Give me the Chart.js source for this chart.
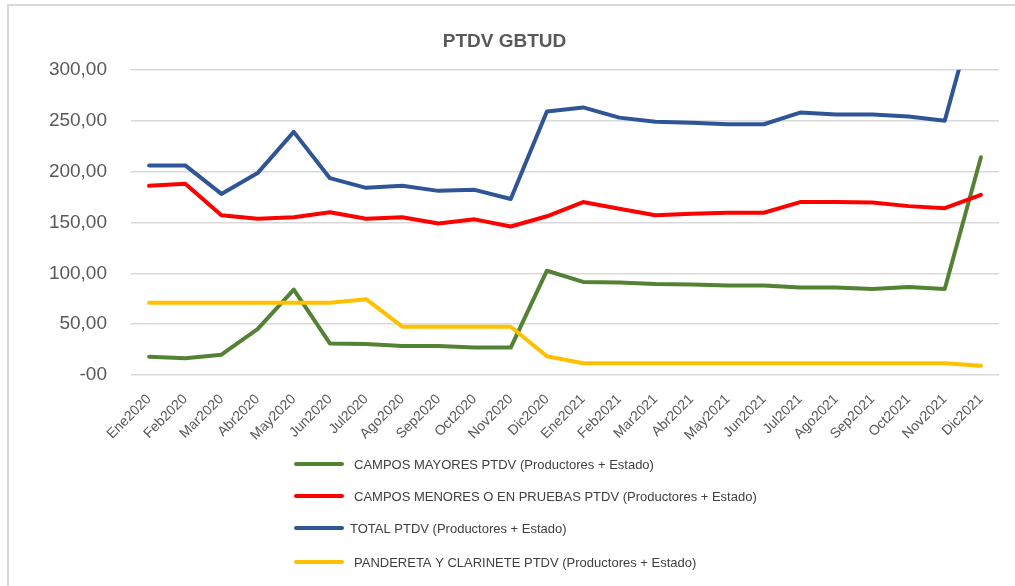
<!DOCTYPE html>
<html>
<head>
<meta charset="utf-8">
<script src="https://cdn.jsdelivr.net/npm/chart.js@4.4.1/dist/chart.umd.min.js"></script>
<style>
  html, body { margin: 0; padding: 0; background: #ffffff; }
  #wrap { position: relative; width: 1015px; height: 586px; overflow: hidden; }
  #frame { position: absolute; left: 7px; top: 4px; right: -10px; bottom: -10px; border-left: 2px solid #d9d9d9; border-top: 2px solid #d9d9d9; pointer-events: none; }
  canvas { position: absolute; left: 0; top: 0; }
</style>
</head>
<body>
<div id="wrap">
  <canvas id="c" width="1015" height="586"></canvas>
  <div id="frame"></div>
</div>
<script>
const categories = ["Ene2020","Feb2020","Mar2020","Abr2020","May2020","Jun2020","Jul2020","Ago2020","Sep2020","Oct2020","Nov2020","Dic2020",
                    "Ene2021","Feb2021","Mar2021","Abr2021","May2021","Jun2021","Jul2021","Ago2021","Sep2021","Oct2021","Nov2021","Dic2021"];
const camposMayores = [18, 16.5, 20, 45, 84, 31, 30.5, 28.5, 28.5, 27, 27, 102.5, 91.5, 91, 89.5, 89, 88, 88, 86, 86, 84.5, 86.5, 84.5, 214];
const camposMenores = [186, 188, 157, 153.5, 155, 160, 153.5, 155, 149, 153, 146, 156, 170, 163.5, 157, 158.5, 159.5, 159.5, 170, 170, 169.5, 166, 164, 177];
const totalPtdv = [206, 206, 178, 198.5, 239, 193.5, 184, 186, 181, 182, 173, 259, 263, 253, 249, 248, 246.5, 246.5, 258, 256, 256, 254, 250, 379];
const pandereta = [71, 71, 71, 71, 71, 71, 74.5, 47.5, 47.5, 47.5, 47.5, 18.5, 11.5, 11.5, 11.5, 11.5, 11.5, 11.5, 11.5, 11.5, 11.5, 11.5, 11.5, 9.2];
const seriesNames = [
  "CAMPOS MAYORES PTDV (Productores + Estado)",
  "CAMPOS MENORES O EN PRUEBAS PTDV (Productores + Estado)",
  "TOTAL PTDV (Productores + Estado)",
  "PANDERETA Y CLARINETE PTDV (Productores + Estado)"
];
const yTickLabels = ["-00", "50,00", "100,00", "150,00", "200,00", "250,00", "300,00"];
const chartTitle = "PTDV GBTUD";

const colors = ["#548235", "#ff0000", "#2f5597", "#ffc000"];
const seriesData = [camposMayores, camposMenores, totalPtdv, pandereta];

const stackedLegend = {
  id: 'stackedLegend',
  afterDraw(chart) {
    const ctx = chart.ctx;
    const rows = [464, 496, 528, 562];
    const textX = [354, 354, 350, 354];
    chart.data.datasets.forEach((ds, i) => {
      const y = rows[i];
      ctx.save();
      ctx.strokeStyle = ds.borderColor;
      ctx.lineWidth = 4;
      ctx.lineCap = 'round';
      ctx.beginPath();
      ctx.moveTo(296, y);
      ctx.lineTo(342, y);
      ctx.stroke();
      ctx.fillStyle = '#404040';
      ctx.font = '13px "Liberation Sans", Arial, sans-serif';
      ctx.textBaseline = 'middle';
      ctx.textAlign = 'left';
      ctx.fillText(ds.label, textX[i], y + 1);
      ctx.restore();
    });
  }
};

new Chart(document.getElementById('c'), {
  type: 'line',
  data: {
    labels: categories,
    datasets: seriesData.map((d, i) => ({
      label: seriesNames[i],
      data: d,
      borderColor: colors[i],
      backgroundColor: colors[i],
      borderWidth: 4,
      pointRadius: 0,
      pointHoverRadius: 0,
      tension: 0,
      fill: false,
      borderJoinStyle: 'round',
      borderCapStyle: 'round',
      order: 3 - i
    }))
  },
  options: {
    responsive: false,
    animation: false,
    layout: { padding: { left: 10, right: 16, top: 0, bottom: 141 } },
    plugins: {
      legend: { display: false },
      tooltip: { enabled: false },
      title: {
        display: true,
        text: chartTitle,
        color: '#595959',
        font: { family: '"Liberation Sans", Arial, sans-serif', size: 19, weight: 'bold' },
        padding: { top: 30, bottom: 17 }
      }
    },
    scales: {
      x: {
        offset: true,
        grid: { display: false, drawTicks: false },
        border: { display: false },
        ticks: {
          color: '#595959',
          font: { family: '"Liberation Sans", Arial, sans-serif', size: 14 },
          minRotation: 45,
          maxRotation: 45,
          autoSkip: false,
          padding: 16
        },
        afterFit(scale) { scale.height = 70; }
      },
      y: {
        min: 0,
        max: 300,
        grid: { color: '#d9d9d9', lineWidth: 1.5, drawTicks: false },
        border: { display: false },
        ticks: {
          stepSize: 50,
          color: '#595959',
          font: { family: '"Liberation Sans", Arial, sans-serif', size: 19 },
          padding: 24,
          callback: (v) => yTickLabels[Math.round(v / 50)]
        },
        afterFit(scale) { scale.width = 121; }
      }
    }
  },
  plugins: [stackedLegend]
});
</script>
</body>
</html>
